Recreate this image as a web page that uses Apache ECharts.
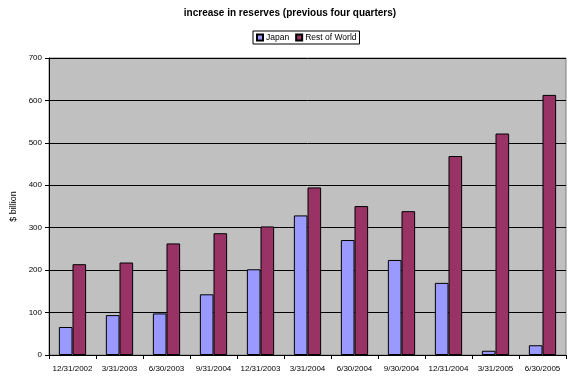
<!DOCTYPE html>
<html>
<head>
<meta charset="utf-8">
<script src="https://cdn.jsdelivr.net/npm/echarts@6/dist/echarts.min.js"></script>
<style>
html,body{margin:0;padding:0;background:#fff;}
#c{width:580px;height:384px;}
</style>
</head>
<body>
<div id="c"></div>
<script>
const categories = ["12/31/2002","3/31/2003","6/30/2003","9/31/2004","12/31/2003","3/31/2004","6/30/2004","9/30/2004","12/31/2004","3/31/2005","6/30/2005"];
const japan = [66, 94, 98, 143, 202, 329, 271, 224, 170, 10, 23];
const restOfWorld = [214, 218, 263, 287, 303, 395, 351, 339, 469, 522, 613];
const yTicks = [0, 100, 200, 300, 400, 500, 600, 700];

const FONT = '"Liberation Sans", Arial, sans-serif';
const chart = echarts.init(document.getElementById('c'), null, {renderer: 'canvas'});
chart.setOption({
  animation: false,
  backgroundColor: '#ffffff',
  textStyle: {fontFamily: FONT},
  title: {
    text: 'increase in reserves (previous four quarters)',
    left: 'center',
    top: 8,
    padding: 0,
    textStyle: {fontSize: 10, fontWeight: 'bold', color: '#000', fontFamily: FONT}
  },
  legend: {
    data: ['Japan', 'Rest of World'],
    left: 253,
    top: 31,
    padding: [2, 3, 2, 3],
    borderColor: '#000',
    borderWidth: 1,
    itemWidth: 6,
    itemHeight: 6,
    itemGap: 6,
    icon: 'rect',
    textStyle: {fontSize: 8.5, color: '#000', fontFamily: FONT, padding: [0, 0, 0, -2]}
  },
  grid: {
    left: 49, right: 14, top: 58, bottom: 29,
    show: true,
    backgroundColor: '#C0C0C0',
    borderColor: '#808080',
    borderWidth: 1
  },
  xAxis: {
    type: 'category',
    data: categories,
    axisLine: {lineStyle: {color: '#000', width: 1}},
    axisTick: {show: true, length: 4, lineStyle: {color: '#000'}},
    axisLabel: {fontSize: 8, color: '#000', margin: 10, interval: 0, fontFamily: FONT},
    splitLine: {show: false}
  },
  yAxis: {
    type: 'value',
    min: 0, max: 700, interval: 100,
    name: '$ billion',
    nameLocation: 'middle',
    nameRotate: 90,
    nameGap: 24,
    nameTextStyle: {fontSize: 9, color: '#000', fontFamily: FONT},
    axisLine: {show: true, lineStyle: {color: '#000', width: 1}},
    axisTick: {show: true, length: 4, lineStyle: {color: '#000'}},
    axisLabel: {fontSize: 8, color: '#000', margin: 7, fontFamily: FONT,
      formatter: v => yTicks.includes(v) ? String(v) : ''},
    splitLine: {show: true, lineStyle: {color: '#000', width: 1}}
  },
  series: [
    {
      name: 'Japan', type: 'bar', data: japan,
      barGap: '0%', barCategoryGap: '42%',
      itemStyle: {color: '#9999FF', borderColor: '#000', borderWidth: 1}
    },
    {
      name: 'Rest of World', type: 'bar', data: restOfWorld,
      barGap: '0%', barCategoryGap: '42%',
      itemStyle: {color: '#993366', borderColor: '#000', borderWidth: 1}
    }
  ]
});
</script>
</body>
</html>
